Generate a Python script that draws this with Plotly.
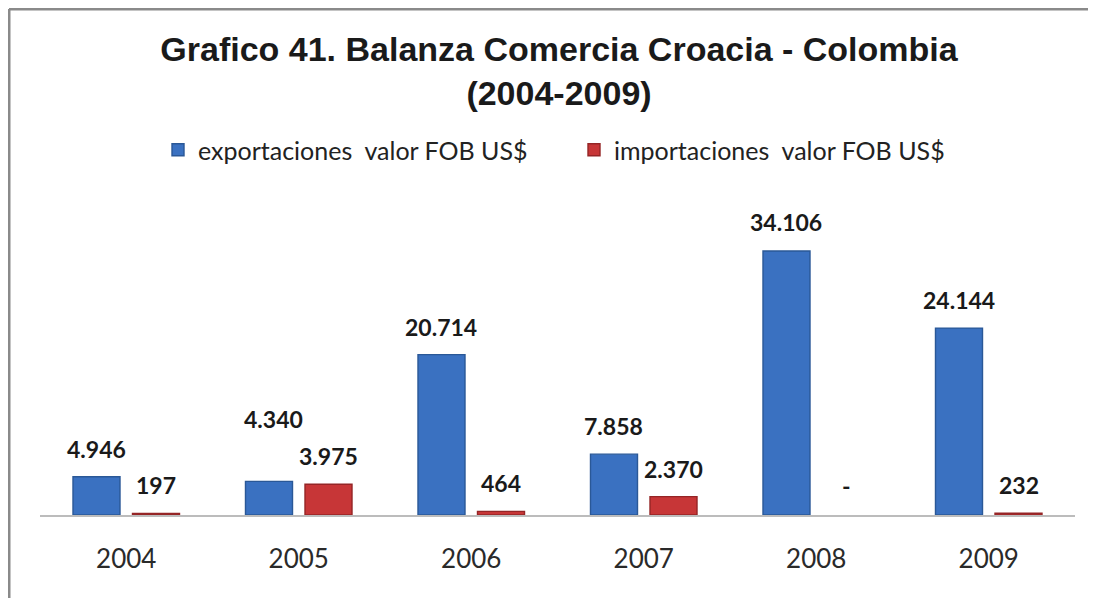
import plotly.graph_objects as go

years = ["2004", "2005", "2006", "2007", "2008", "2009"]
exportaciones = [4946, 4340, 20714, 7858, 34106, 24144]
importaciones = [197, 3975, 464, 2370, 0, 232]
export_label_lift = [28, 62, 28, 28, 29, 28]
import_label_lift = [28, 28, 28, 28, 29, 28]

series_names = ["exportaciones  valor FOB US$", "importaciones  valor FOB US$"]
title_text = "<b>Grafico 41. Balanza Comercia Croacia - Colombia<br>(2004-2009)</b>"


def fmt(v):
    return "-" if v == 0 else f"{v:,}".replace(",", ".")


# page body has an 8px margin: figure sized to fit the window exactly
OFF = 8
W, H = 1096 - OFF, 598 - OFF
ML, MR, MT, MB = 40 - OFF, 21, 210 - OFF, 83
plot_w = W - ML - MR
plot_h = H - MT - MB
cat_w = plot_w / len(years)
bargap = 0.31
slot = cat_w * (1 - bargap) / 2
offset_px = slot / 2

fig = go.Figure()
fig.add_bar(x=years, y=exportaciones, name=series_names[0],
            marker=dict(color="#3a71c1",
                        line=dict(color="#2a5897", width=[1.4 if v > 0 else 0 for v in exportaciones])))
fig.add_bar(x=years, y=importaciones, name=series_names[1],
            marker=dict(color="#c73637",
                        line=dict(color="#952526", width=[1.4 if v > 0 else 0 for v in importaciones])))

label_font = dict(size=23, color="#1a1a1a", family="Lato")
annotations = []
for i, yr in enumerate(years):
    annotations.append(dict(x=i, y=exportaciones[i], xref="x", yref="y",
                            text=f"<b>{fmt(exportaciones[i])}</b>", showarrow=False,
                            xshift=-offset_px + (5 if i == 1 else 0), yshift=export_label_lift[i],
                            yanchor="middle", font=label_font))
    annotations.append(dict(x=i, y=importaciones[i], xref="x", yref="y",
                            text=f"<b>{fmt(importaciones[i])}</b>", showarrow=False,
                            xshift=offset_px, yshift=import_label_lift[i],
                            yanchor="middle", font=label_font))

legend_left_px = 172 - OFF - 14
fig.update_layout(
    width=W, height=H,
    margin=dict(l=ML, r=MR, t=MT, b=MB),
    paper_bgcolor="white", plot_bgcolor="white",
    barmode="group", bargap=bargap, bargroupgap=0.21,
    title=dict(text=title_text, x=(559 - OFF) / W, xanchor="center", xref="container",
               y=1 - 53 / H, yanchor="middle", yref="container",
               font=dict(family="Liberation Sans, Arial", size=34, color="#1a1a1a")),
    legend=dict(orientation="h", x=(legend_left_px - ML) / plot_w, xanchor="left",
                y=(H - MB - (153 - OFF - 3)) / plot_h, yanchor="middle",
                font=dict(family="Lato", size=25, color="#222"),
                entrywidth=371, entrywidthmode="pixels", traceorder="normal"),
    xaxis=dict(type="category", range=[-0.5, len(years) - 0.5], showgrid=False,
               showline=True, linecolor="#bcbcbc", linewidth=1.5,
               ticks="", tickfont=dict(family="Lato", size=26, color="#2a2a2a"),
               ticklabelstandoff=20),
    yaxis=dict(visible=False, range=[0, 34106 * 305 / 264]),
    annotations=annotations,
    showlegend=True,
)

# chart frame (top and left border lines)
frame_y = (H - MB - (9 - OFF)) / plot_h
frame_x = ((9 - OFF) - ML) / plot_w
fig.add_shape(type="line", xref="paper", yref="paper",
              x0=frame_x, x1=(W + 5 - ML) / plot_w, y0=frame_y, y1=frame_y,
              line=dict(color="#8a8a8a", width=3))
fig.add_shape(type="line", xref="paper", yref="paper",
              x0=frame_x, x1=frame_x, y0=frame_y, y1=(H - MB - H - 5) / plot_h,
              line=dict(color="#8a8a8a", width=3))

fig.write_html("out.html")
